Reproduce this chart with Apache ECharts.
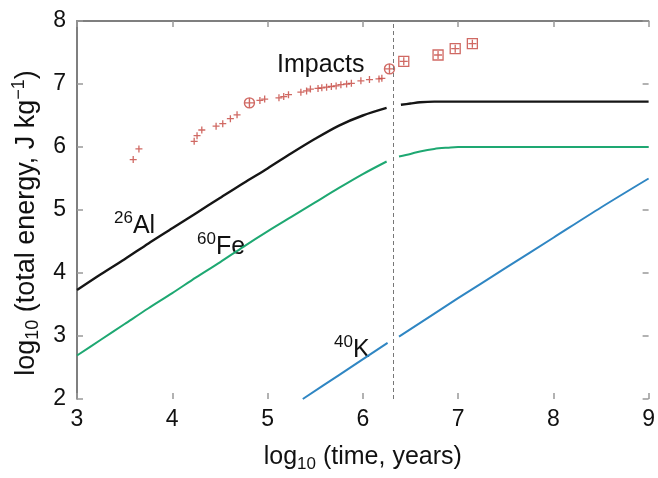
<!DOCTYPE html>
<html>
<head>
<meta charset="utf-8">
<script src="https://cdn.jsdelivr.net/npm/echarts@6/dist/echarts.min.js"></script>
<style>
    html, body { margin: 0; padding: 0; background: #fff; }
    #chart { width: 658px; height: 478px; }
</style>
</head>
<body>
<div id="chart"></div>
<script>
(function(window) {
    'use strict';

    // 数据 (log10 time, log10 energy)
    var al26Early = [[3.0, 3.73], [3.25, 3.98], [3.5, 4.22], [3.75, 4.47], [4.0, 4.71], [4.25, 4.95],
        [4.5, 5.19], [4.75, 5.43], [5.0, 5.66], [5.25, 5.90], [5.5, 6.13], [5.75, 6.34], [6.0, 6.50], [6.25, 6.62]];
    var al26Late = [[6.4, 6.67], [6.5, 6.69], [6.6, 6.71], [6.75, 6.72], [7.0, 6.72], [8.0, 6.72], [9.0, 6.72]];

    var fe60Early = [[3.0, 2.69], [3.25, 2.94], [3.5, 3.19], [3.75, 3.44], [4.0, 3.68], [4.25, 3.93],
        [4.5, 4.17], [4.75, 4.42], [5.0, 4.66], [5.25, 4.89], [5.5, 5.12], [5.75, 5.35], [6.0, 5.57], [6.25, 5.77]];
    var fe60Late = [[6.38, 5.85], [6.5, 5.89], [6.6, 5.93], [6.75, 5.97], [6.9, 5.99], [7.0, 6.0], [8.0, 6.0], [9.0, 6.0]];

    var k40Early = [[5.37, 2.0], [5.75, 2.38], [6.26, 2.89]];
    var k40Late = [[6.38, 2.99], [7.0, 3.60], [7.5, 4.08], [8.0, 4.56], [8.5, 5.04], [9.0, 5.50]];

    var impactsPlus = [[3.59, 5.80], [3.65, 5.97], [4.23, 6.09], [4.26, 6.18], [4.31, 6.27], [4.46, 6.33],
        [4.53, 6.37], [4.61, 6.45], [4.68, 6.51], [4.92, 6.74], [4.97, 6.76], [5.12, 6.78], [5.17, 6.80],
        [5.22, 6.83], [5.35, 6.87], [5.41, 6.89], [5.45, 6.92], [5.53, 6.93], [5.57, 6.94], [5.62, 6.95],
        [5.67, 6.96], [5.72, 6.97], [5.77, 6.99], [5.83, 7.00], [5.88, 7.01], [5.98, 7.05], [6.07, 7.07],
        [6.17, 7.08], [6.20, 7.09]];
    var impactsCircled = [[4.81, 6.70], [6.28, 7.24]];
    var impactsSquared = [[6.43, 7.36], [6.79, 7.46], [6.97, 7.56], [7.15, 7.64]];

    var boundaryX = 6.32;

    var font = 'Liberation Sans';
    var red = '#c4443c';
    var plusPath = 'path://M0,5 L10,5 M5,0 L5,10';
    var circlePlusPath = 'path://M0,5 L10,5 M5,0 L5,10 M10,5 A5,5 0 1 1 0,5 A5,5 0 1 1 10,5 Z';
    var squarePlusPath = 'path://M0,0 L10,0 L10,10 L0,10 Z M1,5 L9,5 M5,1 L5,9';

    function lineSeries(data, color, width) {
        return {
            type: 'line',
            data: data,
            showSymbol: false,
            smooth: 0.3,
            lineStyle: { color: color, width: width },
            silent: true
        };
    }

    function markerSeries(data, path, size, width) {
        return {
            type: 'scatter',
            data: data,
            symbol: path,
            symbolSize: size,
            itemStyle: { color: 'rgba(0,0,0,0)', borderColor: red, borderWidth: width },
            silent: true
        };
    }

    // 上标标签
    function isotopeLabel(left, top, mass, name) {
        return {
            type: 'text', left: left, top: top,
            style: {
                text: '{p|' + mass + '}{m|' + name + '}',
                rich: {
                    p: { fontFamily: font, fontSize: 17, fill: '#111', verticalAlign: 'top', lineHeight: 17 },
                    m: { fontFamily: font, fontSize: 25, fill: '#111', lineHeight: 32 }
                }
            }
        };
    }

    var chart = echarts.init(document.getElementById('chart'));

    function titleRich(size) {
        return {
            t: { fontFamily: font, fontSize: size, color: '#111', lineHeight: 32 },
            s: { fontFamily: font, fontSize: Math.round(size * 0.66), color: '#111', verticalAlign: 'bottom', lineHeight: 24 },
            p: { fontFamily: font, fontSize: Math.round(size * 0.66), color: '#111', verticalAlign: 'top', lineHeight: 22 }
        };
    }

    var option = {
        animation: false,
        backgroundColor: '#fff',
        grid: { left: 77, right: 3, top: 21, bottom: 73 },
        xAxis: [{
            type: 'value',
            min: 3, max: 9, interval: 1,
            position: 'bottom',
            axisLine: { show: false },
            axisTick: { inside: true, length: 6, lineStyle: { color: '#999', width: 1.5 } },
            axisLabel: { fontFamily: font, fontSize: 23, color: '#111', margin: 9 },
            splitLine: { show: false },
            name: '{t|log}{s|10}{t| (time, years)}',
            nameLocation: 'middle',
            nameGap: 42,
            nameTextStyle: { rich: titleRich(25) }
        }, {
            type: 'value',
            min: 3, max: 9, interval: 1,
            position: 'top',
            axisLine: { show: true, lineStyle: { color: '#555', width: 1.5 } },
            axisTick: { inside: true, length: 6, lineStyle: { color: '#999', width: 1.5 } },
            axisLabel: { show: false },
            splitLine: { show: false }
        }],
        yAxis: [{
            type: 'value',
            min: 2, max: 8, interval: 1,
            position: 'left',
            axisLine: { show: true, lineStyle: { color: '#555', width: 1.5 } },
            axisTick: { inside: true, length: 6, lineStyle: { color: '#999', width: 1.5 } },
            axisLabel: { fontFamily: font, fontSize: 23, color: '#111', margin: 11 },
            splitLine: { show: false },
            name: '{t|log}{s|10}{t| (total energy, J kg}{p|\u22121}{t|)}',
            nameLocation: 'middle',
            nameRotate: 90,
            nameGap: 32,
            nameTextStyle: { rich: titleRich(27), padding: [0, 26, 0, 0] }
        }, {
            type: 'value',
            min: 2, max: 8, interval: 1,
            position: 'right',
            axisLine: { show: false },
            axisTick: { inside: true, length: 6, lineStyle: { color: '#999', width: 1.5 } },
            axisLabel: { show: false },
            splitLine: { show: false }
        }],
        series: [
            lineSeries(al26Early, '#151515', 2.4),
            lineSeries(al26Late, '#151515', 2.4),
            lineSeries(fe60Early, '#1ea872', 2),
            lineSeries(fe60Late, '#1ea872', 2),
            lineSeries(k40Early, '#2f86c3', 2),
            lineSeries(k40Late, '#2f86c3', 2),
            markerSeries(impactsPlus, plusPath, 7, 1.3),
            markerSeries(impactsCircled, circlePlusPath, 10, 1.4),
            markerSeries(impactsSquared, squarePlusPath, 10, 1.3),
            {
                // 分界虚线
                type: 'line',
                data: [],
                markLine: {
                    silent: true,
                    symbol: ['none', 'none'],
                    label: { show: false },
                    lineStyle: { color: '#777', width: 1, type: [4, 3] },
                    data: [{ xAxis: boundaryX }]
                }
            }
        ],
        graphic: [{
            type: 'text', left: 277, top: 53,
            style: { text: 'Impacts', font: '25px "Liberation Sans"', fill: '#111' }
        },
            isotopeLabel(114, 210, '26', 'Al'),
            isotopeLabel(197, 231, '60', 'Fe'),
            isotopeLabel(334, 334, '40', 'K')
        ]
    };

    chart.setOption(option);
})(window);
</script>
</body>
</html>
